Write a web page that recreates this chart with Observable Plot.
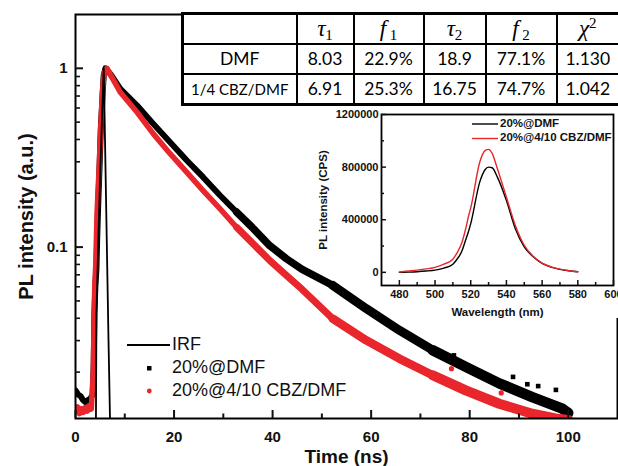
<!DOCTYPE html>
<html>
<head>
<meta charset="utf-8">
<script src="https://cdn.jsdelivr.net/npm/d3@7"></script>
<script src="https://cdn.jsdelivr.net/npm/@observablehq/plot@0.6"></script>
<style>
  body { margin: 0; background: #fff; }
  #wrap { position: relative; width: 618px; height: 466px; overflow: hidden; background: #fff; font-family: "Liberation Sans", Arial, sans-serif; }
  #main, #inset { position: absolute; }
  #main { left: 0; top: 0; }
  #inset { left: 300px; top: 105px; }
  #cover { position: absolute; left: 615px; top: 104px; width: 4px; height: 214px; background: #fff; }
  #tbl { position: absolute; left: 181px; top: 12px; border-collapse: collapse; background: #fff; table-layout: fixed; width: 437px;
         font-family: Lato, "Open Sans", sans-serif; font-size: 17.5px; color: #000; border: 3px solid #000; }
  #tbl td { border: 2px solid #000; text-align: center; padding: 0; overflow: hidden; white-space: nowrap; }
  #tbl tr { height: 30px; }
  #tbl .m { font-family: "Liberation Serif", "DejaVu Serif", serif; font-style: italic; font-size: 23px; }
  #tbl sub { font-family: "Liberation Serif", serif; font-size: 15px; vertical-align: -4px; line-height: 0; }
  #tbl sup { font-family: "Liberation Serif", serif; font-size: 15px; vertical-align: 8px; line-height: 0; }
  #tbl .small { font-size: 15px; }
  .leg { position: absolute; font-size: 18px; color: #111; white-space: nowrap; }
  .ileg { position: absolute; font-size: 11.5px; font-weight: bold; color: #111; white-space: nowrap; }
</style>
</head>
<body>
<div id="wrap">
  <div id="main"></div>
  <div id="cover"></div>
  <div id="inset"></div>
  <table id="tbl">
    <colgroup><col style="width:114px"><col style="width:57px"><col style="width:70px"><col style="width:62px"><col style="width:71px"><col style="width:63px"></colgroup>
    <tbody id="tbody"></tbody>
  </table>
  <div id="legend"></div>
</div>
<script>
// ---------------- data: main decay curves ----------------
const timeBlack = [0, 0.5, 1, 1.5, 2, 2.5, 3, 3.5, 3.7, 3.84, 4.04, 4.25, 4.38, 4.59, 4.72, 4.92, 5.06, 5.19, 5.39, 5.52, 5.72, 6.07, 7.08, 7.75, 9.1, 12.5, 15.8, 19.2, 22.6, 25.9, 29.3, 32.7, 36.1, 39.4, 42.8, 46.0, 52.2, 59.0, 65.7, 72.5, 79.2, 86.0, 92.7, 98.8, 100];
const valueBlack = [0.0158, 0.0150, 0.0147, 0.0140, 0.0136, 0.0139, 0.0142, 0.0150, 0.022, 0.043, 0.061, 0.0757, 0.107, 0.167, 0.212, 0.299, 0.395, 0.499, 0.619, 0.734, 0.91, 1.0, 0.93, 0.873, 0.767, 0.619, 0.489, 0.386, 0.305, 0.246, 0.195, 0.157, 0.127, 0.102, 0.0861, 0.075, 0.0611, 0.0453, 0.0343, 0.0265, 0.0214, 0.0173, 0.0145, 0.0125, 0.0118];
const timeRed = [0, 0.4, 0.8, 1.2, 1.6, 2.0, 2.4, 2.8, 3.2, 3.6, 3.84, 3.91, 4.11, 4.25, 4.38, 4.59, 4.79, 4.92, 5.06, 5.26, 5.39, 5.59, 5.86, 6.4, 7.4, 9.1, 12.5, 15.8, 19.2, 22.6, 25.9, 29.3, 32.7, 36.1, 39.4, 42.8, 46.0, 52.2, 59.0, 65.7, 72.5, 79.2, 86.0, 92.7, 97.4, 100];
const valueRed = [0.0120, 0.0128, 0.0117, 0.0125, 0.0119, 0.0127, 0.0121, 0.0130, 0.0124, 0.020, 0.0483, 0.061, 0.079, 0.114, 0.157, 0.212, 0.274, 0.340, 0.439, 0.556, 0.675, 0.818, 0.95, 1.0, 0.89, 0.734, 0.568, 0.430, 0.333, 0.262, 0.207, 0.164, 0.129, 0.104, 0.0843, 0.0695, 0.058, 0.0398, 0.0301, 0.0238, 0.0192, 0.0158, 0.0133, 0.0117, 0.0110, 0.0108];
const timeIRF = [4.1, 4.15, 4.25, 4.6, 5.0, 5.4, 5.73, 6.0, 6.35, 6.7, 7.0, 7.1];
const valueIRF = [0.008, 0.011, 0.043, 0.1, 0.25, 0.55, 1.0, 0.38, 0.107, 0.030, 0.011, 0.008];
// scattered outlier points in the tail
const outlierBlackT = [76.8, 88.8, 91.7, 93.9, 97.5];
const outlierBlackV = [0.0248, 0.0188, 0.0171, 0.0167, 0.0159];
const outlierRedT = [76.3, 86.4];
const outlierRedV = [0.0209, 0.0153];

// axis ticks
const xMajor = [0, 20, 40, 60, 80, 100];
const xMinor = [10, 30, 50, 70, 90];
const yMajor = [0.1, 1];
const yMajorLabels = ["0.1", "1"];
const yMinor = [0.02, 0.03, 0.04, 0.05, 0.06, 0.07, 0.08, 0.09, 0.2, 0.3, 0.4, 0.5, 0.6, 0.7, 0.8, 0.9];

// legend labels
const seriesNames = ["IRF", "20%@DMF", "20%@4/10 CBZ/DMF"];

// ---------------- data: inset PL spectra ----------------
const wavelength = [480, 485, 490, 495, 500, 505, 510, 512, 515, 517, 519, 520, 525, 528, 530, 532, 535, 540, 545, 550, 555, 560, 565, 570, 575, 580];
const plDMF = [0, 2000, 5000, 10000, 17000, 32000, 62000, 94000, 160000, 240000, 322000, 370000, 684000, 780000, 800000, 795000, 722000, 546000, 332000, 194000, 118000, 68000, 40000, 23000, 12000, 5000];
const plCBZ = [3000, 10000, 17000, 26000, 38000, 62000, 100000, 140000, 225000, 322000, 440000, 490000, 835000, 925000, 935000, 905000, 785000, 571000, 357000, 206000, 122000, 70000, 42000, 24000, 12000, 5000];
const insetXMajor = [480, 500, 520, 540, 560, 580, 600];
const insetXMinor = [490, 510, 530, 550, 570, 590];
const insetYMajor = [0, 400000, 800000, 1200000];
const insetYMinor = [200000, 600000, 1000000];
const insetNames = ["20%@DMF", "20%@4/10 CBZ/DMF"];

// ---------------- data: table ----------------
const tableRows = ["DMF", "1/4 CBZ/DMF"];
const tau1 = ["8.03", "6.91"];
const f1 = ["22.9%", "25.3%"];
const tau2 = ["18.9", "16.75"];
const f2 = ["77.1%", "74.7%"];
const chi2 = ["1.130", "1.042"];

const RED = "#e8262b";
const zip = (ts, vs) => ts.map((t, i) => ({t, v: vs[i]}));
const black = zip(timeBlack, valueBlack);
const red = zip(timeRed, valueRed);
const irf = zip(timeIRF, valueIRF);

const W = 618, H = 466, ML = 75, MR = 1, MT = 14, MB = 48;
const PW = W - ML - MR, PH = H - MT - MB;

// the scatter band widens towards the noisy tail: overlay progressively wider strokes
const bandLines = (data, color, widths) => widths.map(([from, w]) =>
  Plot.line(data.filter(d => d.t >= from), {x: "t", y: "v", stroke: color, strokeWidth: w, strokeLinejoin: "round", strokeLinecap: "round", clip: true}));

const main = Plot.plot({
  width: W, height: H,
  marginLeft: ML, marginRight: MR, marginTop: MT, marginBottom: MB,
  style: {fontFamily: "Liberation Sans, Arial, sans-serif", fontSize: "15px", color: "#111", background: "transparent"},
  x: {domain: [0, 110], axis: null},
  y: {type: "log", domain: [0.011, 2], axis: null},
  marks: [
    // data
    ...bandLines(black, "#000", [[0, 6], [32, 7.5], [52, 9], [72, 10.5]]),
    Plot.dot(zip(outlierBlackT, outlierBlackV), {x: "t", y: "v", symbol: "square", r: 2.6, fill: "#000", clip: true}),
    ...bandLines(red, RED, [[0, 5.5], [32, 7], [52, 8.5], [72, 10]]),
    Plot.dot(zip(outlierRedT, outlierRedV), {x: "t", y: "v", r: 2.6, fill: RED, clip: true}),
    Plot.line(irf, {x: "t", y: "v", stroke: "#000", strokeWidth: 1.8, clip: true}),
    // frame & inward ticks
    Plot.frame({stroke: "#000", strokeWidth: 2}),
    Plot.tickX(xMajor, {x: d => d, insetTop: PH - 8, strokeWidth: 2}),
    Plot.tickX(xMinor, {x: d => d, insetTop: PH - 4.5, strokeWidth: 2}),
    Plot.tickY(yMajor, {y: d => d, insetRight: PW - 8, strokeWidth: 2}),
    Plot.tickY(yMinor, {y: d => d, insetRight: PW - 5, strokeWidth: 1.6}),
    // tick labels
    Plot.text(xMajor, {x: d => d, frameAnchor: "bottom", lineAnchor: "middle", dy: 19, text: d => String(d), fontSize: 15, fontWeight: "bold"}),
    Plot.text(yMajor, {y: d => d, frameAnchor: "left", dx: -8, textAnchor: "end", text: (d, i) => yMajorLabels[i], fontSize: 15, fontWeight: "bold"}),
    // axis titles
    Plot.text(["Time (ns)"], {frameAnchor: "bottom", lineAnchor: "middle", dy: 38, fontSize: 19, fontWeight: "bold"}),
    Plot.text(["PL intensity (a.u.)"], {frameAnchor: "left", textAnchor: "middle", lineAnchor: "middle", dx: -49, rotate: -90, fontSize: 20, fontWeight: "bold"})
  ]
});
document.getElementById("main").append(main);

// ---------------- inset ----------------
const IW = 318, IH = 215, IML = 81, IMR = 5, IMT = 9, IMB = 35;
const IPW = IW - IML - IMR, IPH = IH - IMT - IMB;
const dmf = wavelength.map((w, i) => ({w, v: plDMF[i]}));
const cbz = wavelength.map((w, i) => ({w, v: plCBZ[i]}));
const inset = Plot.plot({
  width: IW, height: IH,
  marginLeft: IML, marginRight: IMR, marginTop: IMT, marginBottom: IMB,
  style: {fontFamily: "Liberation Sans, Arial, sans-serif", fontSize: "11px", color: "#111", background: "transparent"},
  x: {domain: [470, 600], axis: null},
  y: {domain: [-100000, 1200000], axis: null},
  marks: [
    Plot.line(dmf, {x: "w", y: "v", stroke: "#000", strokeWidth: 1.4, curve: "monotone-x"}),
    Plot.line(cbz, {x: "w", y: "v", stroke: RED, strokeWidth: 1.4, curve: "monotone-x"}),
    Plot.frame({stroke: "#000", strokeWidth: 1.8}),
    Plot.tickX(insetXMajor, {x: d => d, insetTop: IPH - 5, strokeWidth: 1.5}),
    Plot.tickX(insetXMinor, {x: d => d, insetTop: IPH - 3, strokeWidth: 1.5}),
    Plot.tickY(insetYMajor, {y: d => d, insetRight: IPW - 5, strokeWidth: 1.5}),
    Plot.tickY(insetYMinor, {y: d => d, insetRight: IPW - 3, strokeWidth: 1.5}),
    Plot.text(insetXMajor, {x: d => d, frameAnchor: "bottom", lineAnchor: "middle", dy: 9, text: d => String(d), fontSize: 11, fontWeight: "bold"}),
    Plot.text(insetYMajor, {y: d => d, frameAnchor: "left", dx: -3, textAnchor: "end", text: d => String(d), fontSize: 11, fontWeight: "bold"}),
    Plot.text(["Wavelength (nm)"], {frameAnchor: "bottom", lineAnchor: "middle", dy: 27, fontSize: 11.5, fontWeight: "bold"}),
    Plot.text(["PL intensity (CPS)"], {frameAnchor: "left", textAnchor: "middle", lineAnchor: "middle", dx: -58, rotate: -90, fontSize: 11.5, fontWeight: "bold"})
  ]
});
document.getElementById("inset").append(inset);

// ---------------- table ----------------
const tb = document.getElementById("tbody");
const hdr = document.createElement("tr");
hdr.innerHTML = `<td></td><td><span class="m">τ</span><sub>1</sub></td><td><span class="m">f</span><sub> 1</sub></td><td><span class="m">τ</span><sub>2</sub></td><td><span class="m">f</span><sub> 2</sub></td><td><span class="m">χ</span><sup>2</sup></td>`;
tb.append(hdr);
tableRows.forEach((name, i) => {
  const tr = document.createElement("tr");
  tr.innerHTML = `<td class="${i === 1 ? "small" : ""}">${name}</td><td>${tau1[i]}</td><td>${f1[i]}</td><td>${tau2[i]}</td><td>${f2[i]}</td><td>${chi2[i]}</td>`;
  if (i === 1) tr.style.height = "31px";
  tb.append(tr);
});

// ---------------- legends ----------------
const lg = document.getElementById("legend");
lg.innerHTML = `
<svg style="position:absolute;left:0;top:0" width="618" height="466">
  <line x1="127" x2="170" y1="345" y2="345" stroke="#000" stroke-width="2"/>
  <rect x="147" y="366" width="4.5" height="4.5" fill="#000"/>
  <circle cx="149.3" cy="391" r="2.4" fill="${RED}"/>
  <line x1="472" x2="498" y1="124" y2="124" stroke="#000" stroke-width="1.4"/>
  <line x1="472" x2="498" y1="138.5" y2="138.5" stroke="${RED}" stroke-width="1.4"/>
</svg>
<div class="leg" style="left:172px;top:334px">${seriesNames[0]}</div>
<div class="leg" style="left:172px;top:357px">${seriesNames[1]}</div>
<div class="leg" style="left:172px;top:380px">${seriesNames[2]}</div>
<div class="ileg" style="left:500px;top:117px">${insetNames[0]}</div>
<div class="ileg" style="left:500px;top:131px">${insetNames[1]}</div>
`;
</script>
</body>
</html>
